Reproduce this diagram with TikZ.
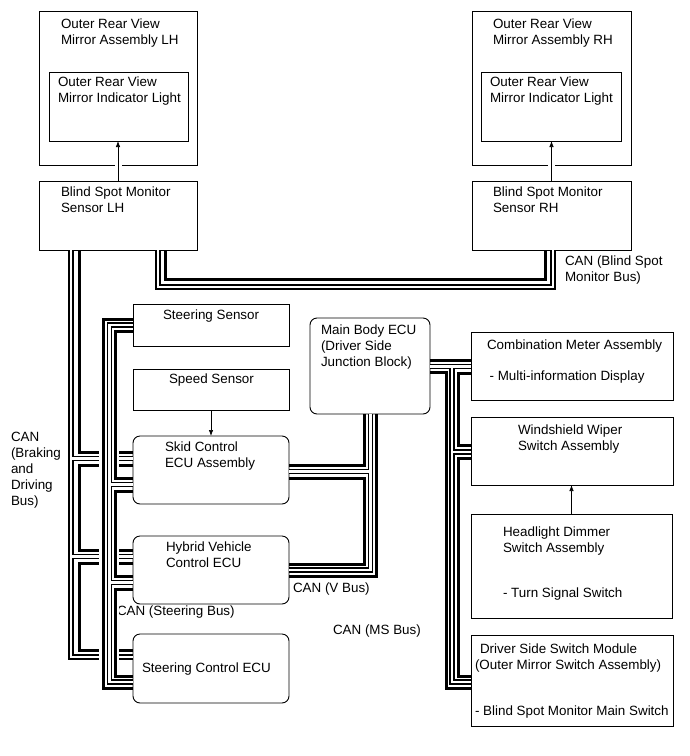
\documentclass[tikz,border=0pt]{standalone}
\usepackage{fontspec}
\setmainfont{Liberation Sans}
\usetikzlibrary{arrows.meta}
\newcommand\BusDblA{%
 \path[dst] ([xshift=119pt]bsmL.south west) -- ++(0,37) -| ([xshift=81pt]bsmR.south west);
 \path[dst] ([xshift=32pt]bsmL.south west) |- ([yshift=-23pt]stc.north west);
 \path[dst] ([yshift=-22.5pt]skid.north west) -- ++(-62,0);
 \path[dst] ([yshift=-20.5pt]hyb.north west) -- ++(-62,0);
 \path[dst] ([xshift=60.5pt]mb.south west) |- ([yshift=-34pt]hyb.north east);
 \path[dst] ([yshift=-35.5pt]skid.north east) -- ++(81.5,0);
 \path[dst] ([yshift=-48.5pt]mb.north east) -- ([yshift=-34.5pt]cmb.north west);
 \path[dst] ([xshift=22pt,yshift=-48.5pt]mb.north east) |- ([yshift=-47pt]dsw.north west);
 \path[dst] ([yshift=-35pt]wsw.north west) -- ++(-19,0);
}
\newcommand\BusThickA{%
 \draw[wk] ([xshift=126.5pt]bsmL.south west) -- ++(0,29) -| ([xshift=73.5pt]bsmR.south west);
 \draw[wk] ([xshift=40.5pt]bsmL.south west) |- ([yshift=-16pt]skid.north west);
 \draw[wk] ([yshift=-29pt]skid.north west) -- ++(-53.5,0) |- ([yshift=-14pt]hyb.north west);
 \draw[wk] ([yshift=-27pt]hyb.north west) -- ++(-53.5,0) |- ([yshift=-16pt]stc.north west);
 \draw[wk] ([xshift=54.5pt]mb.south west) |- ([yshift=-29pt]skid.north east);
 \draw[wk] ([yshift=-42pt]skid.north east) -- ++(75.5,0) |- ([yshift=-28pt]hyb.north east);
 \draw[wk] ([xshift=66.5pt]mb.south west) |- ([yshift=-40pt]hyb.north east);
 \draw[wk] ([yshift=-42.5pt]mb.north east) -- ([yshift=-28.5pt]cmb.north west);
 \draw[wk] ([yshift=-54.5pt]mb.north east) -- ++(16,0) |- ([yshift=-53pt]dsw.north west);
 \draw[wk] ([yshift=-41pt]cmb.north west) -- ++(-13,0) |- ([yshift=-28.5pt]wsw.north west);
 \draw[wk] ([yshift=-41.5pt]wsw.north west) -- ++(-13,0) |- ([yshift=-41pt]dsw.north west);
}
\newcommand\BusDblB{%
 \path[dst] ([yshift=-21pt]steS.north west) -- ++(-23.5,0) |- ([yshift=-48pt]stc.north west);
 \path[dst] ([yshift=-48.5pt]skid.north west) -- ++(-23.5,0);
 \path[dst] ([yshift=-46.5pt]hyb.north west) -- ++(-23.5,0);
}
\newcommand\BusThickB{%
 \draw[wk] ([yshift=-15pt]steS.north west) -- ++(-29.5,0) |- ([yshift=-54pt]stc.north west);
 \draw[wk] ([yshift=-27pt]steS.north west) -- ++(-17.5,0) |- ([yshift=-42pt]skid.north west);
 \draw[wk] ([yshift=-55pt]skid.north west) -- ++(-17.5,0) |- ([yshift=-40pt]hyb.north west);
 \draw[wk] ([yshift=-53pt]hyb.north west) -- ++(-17.5,0) |- ([yshift=-42pt]stc.north west);
}
\begin{document}
\begin{tikzpicture}[x=1pt,y=-1pt,
  box/.style={draw=black,line width=0.9pt,anchor=north west,inner sep=0pt,outer sep=0pt},
  rbox/.style={box,rounded corners=7pt},
  txt/.style={anchor=north west,inner sep=0pt,outer sep=0pt,align=left,font=\fontsize{13.4pt}{16pt}\selectfont},
  wk/.style={draw=black,line width=3pt},
  dblo/.style={draw=black,line width=5.2pt},
  dbli/.style={draw=white,line width=2.6pt},
  gap/.style={draw=white,line width=7pt},
  arr/.style={draw=black,line width=0.7pt,-{Latex[length=6pt,width=4.5pt]}}
]
\useasboundingbox (0,0) rectangle (690,756);
% boxes
\node[box,minimum width=158pt,minimum height=154pt] (mirL) at (39,11) {};
\node[box,minimum width=139pt,minimum height=69pt] (indL) at (49,72) {};
\node[box,minimum width=158pt,minimum height=69pt] (bsmL) at (39,181) {};
\node[box,minimum width=159pt,minimum height=154pt] (mirR) at (472,11) {};
\node[box,minimum width=140pt,minimum height=69pt] (indR) at (481,72) {};
\node[box,minimum width=159pt,minimum height=69pt] (bsmR) at (472,181) {};
\node[box,minimum width=156pt,minimum height=42pt] (steS) at (133,304) {};
\node[box,minimum width=156pt,minimum height=41pt] (spdS) at (133,369) {};
\node[rbox,minimum width=156pt,minimum height=68pt] (skid) at (133,436) {};
\node[rbox,minimum width=156pt,minimum height=68pt] (hyb) at (133,536) {};
\node[rbox,minimum width=156pt,minimum height=69pt] (stc) at (133,634) {};
\node[rbox,minimum width=120pt,minimum height=96pt] (mb) at (310,318) {};
\node[box,minimum width=202pt,minimum height=68pt] (cmb) at (471,332) {};
\node[box,minimum width=202pt,minimum height=68pt] (wsw) at (471,417) {};
\node[box,minimum width=201pt,minimum height=104pt] (hdl) at (471,514) {};
\node[box,minimum width=202pt,minimum height=91pt] (dsw) at (471,635) {};
% texts
\node[txt] (tMirL) at (61,19) {Outer Rear View\\Mirror Assembly LH};
\node[txt] (tIndL) at (58,77) {Outer Rear View\\Mirror Indicator Light};
\node[txt] (tBsmL) at (61,187) {Blind Spot Monitor\\Sensor LH};
\node[txt] (tMirR) at (493,19) {Outer Rear View\\Mirror Assembly RH};
\node[txt] (tIndR) at (490,77) {Outer Rear View\\Mirror Indicator Light};
\node[txt] (tBsmR) at (493,187) {Blind Spot Monitor\\Sensor RH};
\node[txt] (tSteS) at (163,310) {Steering Sensor};
\node[txt] (tSpdS) at (169,374) {Speed Sensor};
\node[txt] (tSkid) at (165,442) {Skid Control\\ECU Assembly};
\node[txt] (tHyb) at (166,542) {Hybrid Vehicle\\Control ECU};
\node[txt] (tStc) at (142,663) {Steering Control ECU};
\node[txt] (tMb) at (321,325) {Main Body ECU\\(Driver Side\\Junction Block)};
\node[txt] (tCmb) at (487,340) {Combination Meter Assembly\\[15pt]\hspace{2.6pt}- Multi-information Display};
\node[txt] (tWsw) at (518,425) {Windshield Wiper\\Switch Assembly};
\node[txt] (tHdl) at (503,527) {Headlight Dimmer\\Switch Assembly};
\node[txt] (tHdl2) at (503,588) {- Turn Signal Switch};
\node[txt] (tDsw) at (475,644) {\hspace{5pt}Driver Side Switch Module\\(Outer Mirror Switch Assembly)};
\node[txt] (tDsw2) at (475,706) {- Blind Spot Monitor Main Switch};
% labels
\node[txt] (lBD) at (11,432) {CAN\\(Braking\\and\\Driving\\Bus)};
\node[txt] (lST) at (117,606) {CAN (Steering Bus)};
\node[txt] (lV) at (293,583) {CAN (V Bus)};
\node[txt] (lMS) at (333,625) {CAN (MS Bus)};
\node[txt] (lBSM) at (565,256) {CAN (Blind Spot\\Monitor Bus)};
% arrows (with a gap in the outer mirror box line)
\draw[gap] ([yshift=3.5pt]mirL.south) -- ([yshift=-3.5pt]mirL.south);
\draw[gap] ([yshift=3.5pt]mirR.south) -- ([yshift=-3.5pt]mirR.south);
\draw[arr] (bsmL.north) -- (bsmL.north |- indL.south);
\draw[arr] (bsmR.north) -- (bsmR.north |- indR.south);
\draw[arr] (spdS.south) -- (skid.north);
\draw[arr] (hdl.north) -- (hdl.north |- wsw.south);
% buses group A
\tikzset{dst/.style=dblo}\BusDblA
\tikzset{dst/.style=dbli}\BusDblA
\BusThickA
% crossing gap
\fill[white] (99,440) rectangle (118.5,664);
% bus group B
\tikzset{dst/.style=dblo}\BusDblB
\tikzset{dst/.style=dbli}\BusDblB
\BusThickB
\end{tikzpicture}
\end{document}
